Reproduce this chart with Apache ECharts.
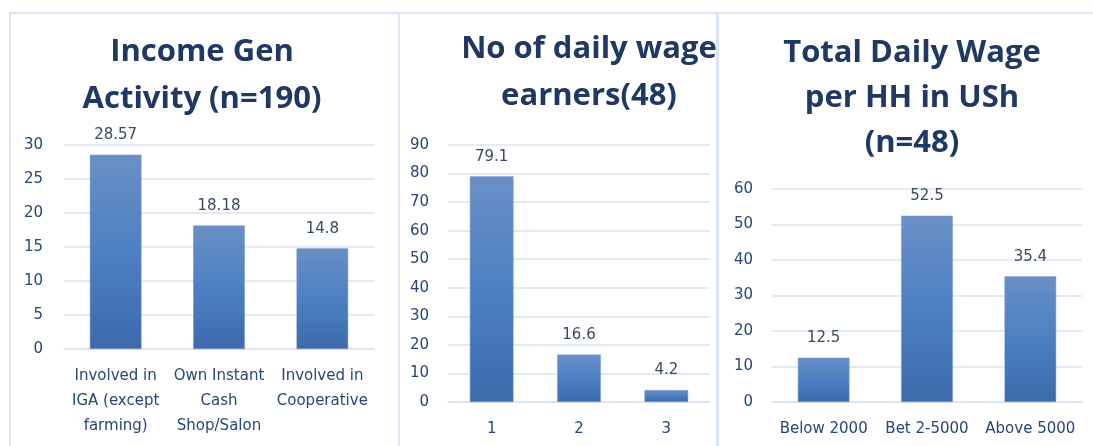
<!DOCTYPE html>
<html>
<head>
<meta charset="utf-8">
<script src="https://cdn.jsdelivr.net/npm/echarts@6/dist/echarts.min.js"></script>
<style>
html, body { margin: 0; padding: 0; background: #fff; }
#chart { width: 1093px; height: 446px; }
</style>
</head>
<body>
<div id="chart"></div>
<script>
// panel 1
const igaCategories = ['Involved in\nIGA (except\nfarming)', 'Own Instant\nCash\nShop/Salon', 'Involved in\nCooperative']
const igaValues = [28.57, 18.18, 14.8]
// panel 2
const earnerCategories = ['1', '2', '3']
const earnerValues = [79.1, 16.6, 4.2]
// panel 3
const wageCategories = ['Below 2000', 'Bet 2-5000', 'Above 5000']
const wageValues = [12.5, 52.5, 35.4]

const titles = ['Income Gen\nActivity (n=190)', 'No of daily wage\nearners(48)', 'Total Daily Wage\nper HH in USh\n(n=48)']
const yMax = [30, 90, 60]
const yStep = [5, 10, 10]

const textColor = '#27467a'
const gridColor = '#d9e4f3'
const font = '"DejaVu Sans", sans-serif'
const titleFont = '"Open Sans", sans-serif'

const barColor = {
    type: 'linear', x: 0, y: 0, x2: 0, y2: 1,
    colorStops: [
        { offset: 0, color: '#6a8fc6' },
        { offset: 0.5, color: '#4c80c3' },
        { offset: 1, color: '#3c6aab' }
    ]
}

const myChart = echarts.init(document.getElementById('chart'))

const grids = [
    { left: 64, right: 719, top: 145, bottom: 97 },
    { left: 448, right: 383, top: 145, bottom: 44 },
    { left: 772, right: 11, top: 189, bottom: 44 }
]
const cats = [igaCategories, earnerCategories, wageCategories]
const vals = [igaValues, earnerValues, wageValues]
const titleX = [202, 589, 912]
const titleTop = [29, 26, 31]
const labelMargin = [21, 19, 19]

const xAxis = []
const yAxis = []
const series = []
const title = []
cats.forEach((c, i) => {
    xAxis.push({
        type: 'category',
        gridIndex: i,
        data: c,
        axisTick: { show: false },
        axisLine: { lineStyle: { color: gridColor, width: 1.5 } },
        axisLabel: {
            interval: 0,
            color: textColor,
            fontFamily: font,
            fontSize: 15,
            lineHeight: 25,
            margin: 15
        }
    })
    yAxis.push({
        type: 'value',
        gridIndex: i,
        min: 0,
        max: yMax[i],
        interval: yStep[i],
        axisLine: { show: false },
        axisTick: { show: false },
        splitLine: { lineStyle: { color: gridColor, width: 1.5 } },
        axisLabel: {
            color: textColor,
            fontFamily: font,
            fontSize: 15,
            margin: labelMargin[i]
        }
    })
    series.push({
        type: 'bar',
        xAxisIndex: i,
        yAxisIndex: i,
        data: vals[i],
        barWidth: '50%',
        itemStyle: { color: barColor, borderColor: '#7d9fd0', borderWidth: 0.5 },
        label: {
            show: true,
            position: 'top',
            distance: 12,
            color: '#3a4a63',
            fontFamily: font,
            fontSize: 15
        }
    })
    title.push({
        text: titles[i],
        left: titleX[i],
        top: titleTop[i],
        padding: 0,
        textAlign: 'center',
        textStyle: {
            color: '#1f3864',
            fontFamily: titleFont,
            fontWeight: 'bold',
            fontSize: 31,
            lineHeight: i === 2 ? 45 : 47
        }
    })
})

myChart.setOption({
    animation: false,
    title: title,
    grid: grids,
    xAxis: xAxis,
    yAxis: yAxis,
    series: series,
    graphic: [
        { type: 'rect', shape: { x: 10, y: 13, width: 389, height: 460 }, style: { fill: 'none', stroke: '#dae6f5', lineWidth: 2 } },
        { type: 'rect', shape: { x: 399, y: 13, width: 319, height: 460 }, style: { fill: 'none', stroke: '#dae6f5', lineWidth: 2 } },
        { type: 'rect', shape: { x: 717, y: 13, width: 400, height: 460 }, style: { fill: 'none', stroke: '#dae6f5', lineWidth: 2 } }
    ]
})
</script>
</body>
</html>
